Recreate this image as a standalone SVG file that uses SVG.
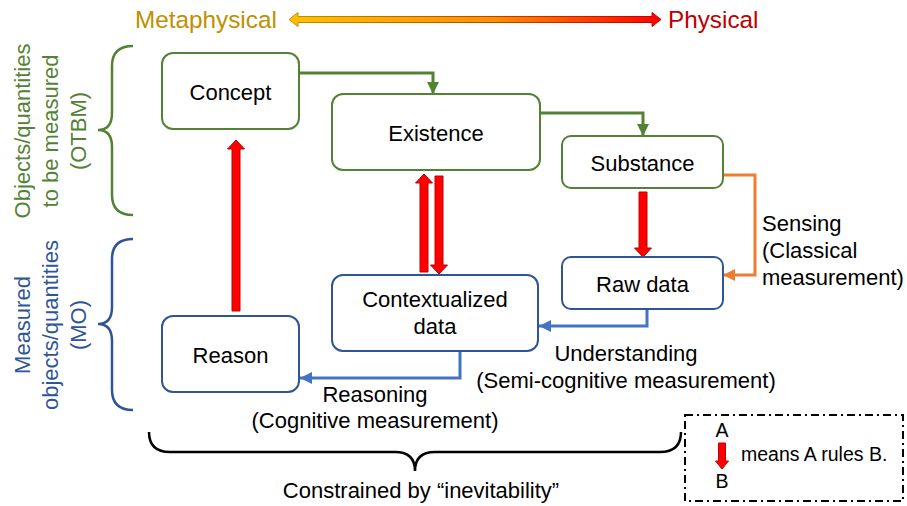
<svg xmlns="http://www.w3.org/2000/svg" width="907" height="506" viewBox="0 0 907 506">
<defs>
<linearGradient id="gFill" x1="289" y1="0" x2="661" y2="0" gradientUnits="userSpaceOnUse">
<stop offset="0" stop-color="#FFC000"/>
<stop offset="0.55" stop-color="#FF9000"/>
<stop offset="1" stop-color="#FF0000"/>
</linearGradient>
<linearGradient id="gStroke" x1="289" y1="0" x2="661" y2="0" gradientUnits="userSpaceOnUse">
<stop offset="0" stop-color="#BF9000"/>
<stop offset="1" stop-color="#C00000"/>
</linearGradient>
<marker id="mG" markerUnits="userSpaceOnUse" markerWidth="12" markerHeight="12" refX="12" refY="6" orient="auto"><path d="M0,0 L12,6 L0,12 z" fill="#548235"/></marker>
<marker id="mB" markerUnits="userSpaceOnUse" markerWidth="12" markerHeight="12" refX="12" refY="6" orient="auto"><path d="M0,0 L12,6 L0,12 z" fill="#4472C4"/></marker>
<marker id="mO" markerUnits="userSpaceOnUse" markerWidth="12" markerHeight="12" refX="12" refY="6" orient="auto"><path d="M0,0 L12,6 L0,12 z" fill="#ED7D31"/></marker>
</defs>
<style>
text{font-family:"Liberation Sans",Arial,sans-serif;font-size:22px;fill:#000}
.mid{text-anchor:middle}
.gbox{fill:#fff;stroke:#548235;stroke-width:2}
.bbox{fill:#fff;stroke:#2F5597;stroke-width:2}
.red{fill:#FF0000;stroke:#C00000;stroke-width:1}
.gc{fill:none;stroke:#548235;stroke-width:3}
.bc{fill:none;stroke:#4472C4;stroke-width:3}
.oc{fill:none;stroke:#ED7D31;stroke-width:3}
.brace{fill:none;stroke-width:2.5}
.gt{fill:#548235}
.bt{fill:#2F5597}
.leg{font-size:19.5px}
</style>

<g id="scale">
<text x="135" y="28" style="font-size:24.3px;fill:#BF9000">Metaphysical</text>
<path d="M289,19.5 L298,12.5 V16.5 H652 V12.5 L661,19.5 L652,26.5 V22.5 H298 V26.5 Z" fill="url(#gFill)" stroke="url(#gStroke)" stroke-width="1"/>
<text x="668" y="28" style="font-size:24.3px;fill:#C00000">Physical</text>
</g>

<g id="otbm-brace">
<path class="brace" stroke="#548235" d="M133,46 Q112,46 112,66 V113 Q112,130 98,130 Q112,130 112,147 V195 Q112,215 133,215"/>
<text class="mid gt" transform="translate(30,131) rotate(-90)">Objects/quantities</text>
<text class="mid gt" transform="translate(58,131) rotate(-90)">to be measured</text>
<text class="mid gt" transform="translate(86,131) rotate(-90)">(OTBM)</text>
</g>

<g id="mo-brace">
<path class="brace" stroke="#2F5597" d="M133,239 Q112,239 112,259 V307 Q112,324 98,324 Q112,324 112,341 V390 Q112,410 133,410"/>
<text class="mid bt" transform="translate(30,325) rotate(-90)">Measured</text>
<text class="mid bt" transform="translate(58,325) rotate(-90)">objects/quantities</text>
<text class="mid bt" transform="translate(86,325) rotate(-90)">(MO)</text>
</g>

<g id="connectors">
<path class="gc" d="M299,73 H433 V94" marker-end="url(#mG)"/>
<path class="gc" d="M540,113 H643 V136" marker-end="url(#mG)"/>
<path class="oc" d="M723,175 H755 V275 H723" marker-end="url(#mO)"/>
<path class="bc" d="M647,309 V326 H539" marker-end="url(#mB)"/>
<path class="bc" d="M460,351 V378 H300" marker-end="url(#mB)"/>
<path class="red" d="M232,311 V149 H227.5 L236,140 L244.5,149 H240 V311 Z"/>
<path class="red" d="M420,272 V183 H415.5 L424,174 L432.5,183 H428 V272 Z"/>
<path class="red" d="M435,176 V265 H430.5 L439,274 L447.5,265 H443 V176 Z"/>
<path class="red" d="M639,192 V248 H634.5 L643,257 L651.5,248 H647 V192 Z"/>
<text x="762" y="231">Sensing</text>
<text x="762" y="258">(Classical</text>
<text x="762" y="285">measurement)</text>
<text class="mid" x="626" y="361">Understanding</text>
<text class="mid" x="626" y="388">(Semi-cognitive measurement)</text>
<text class="mid" x="375" y="402">Reasoning</text>
<text class="mid" x="375" y="428">(Cognitive measurement)</text>
</g>

<g id="concept">
<rect class="gbox" x="162" y="53" width="137" height="76" rx="11"/>
<text class="mid" x="230.5" y="100">Concept</text>
</g>
<g id="existence">
<rect class="gbox" x="332" y="94" width="208" height="76" rx="11"/>
<text class="mid" x="436" y="141">Existence</text>
</g>
<g id="substance">
<rect class="gbox" x="562" y="136" width="161" height="52" rx="9"/>
<text class="mid" x="642.5" y="171">Substance</text>
</g>
<g id="rawdata">
<rect class="bbox" x="562" y="257" width="161" height="52" rx="9"/>
<text class="mid" x="642.5" y="292">Raw data</text>
</g>
<g id="contextualized">
<rect class="bbox" x="332" y="275" width="206" height="76" rx="11"/>
<text class="mid" x="435" y="307">Contextualized</text>
<text class="mid" x="435" y="334">data</text>
</g>
<g id="reason">
<rect class="bbox" x="162" y="316" width="137" height="76" rx="11"/>
<text class="mid" x="230.5" y="363">Reason</text>
</g>

<g id="constraint">
<path class="brace" stroke="#000" stroke-width="2" d="M149,432 Q149,452 170,452 H395 Q415,452 415,471 Q415,452 435,452 H660 Q681,452 681,432"/>
<text class="mid" x="421" y="498">Constrained by “inevitability”</text>
</g>

<g id="legend">
<rect x="685" y="415" width="218" height="86" fill="none" stroke="#000" stroke-width="2" stroke-dasharray="8,4,2,4"/>
<text class="mid leg" x="722" y="437">A</text>
<path class="red" d="M718.5,443 V461 H715.5 L722,469 L728.5,461 H725.5 V443 Z"/>
<text class="mid leg" x="722" y="488">B</text>
<text class="leg" x="741" y="461">means A rules B.</text>
</g>
</svg>
